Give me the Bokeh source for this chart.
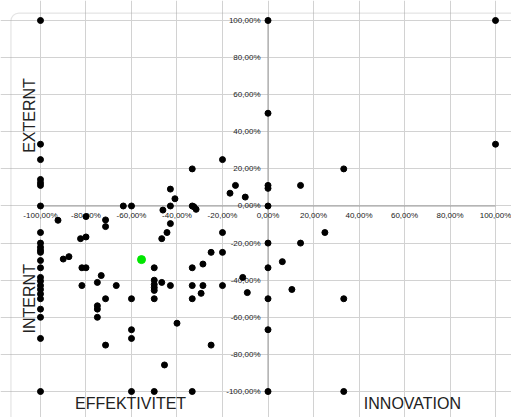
from bokeh.plotting import figure
from bokeh.models import Range1d, FixedTicker, Label, BoxAnnotation
from bokeh.core.properties import value
from bokeh.embed import file_html
from bokeh.resources import INLINE
import math

# ---- data (percent) ----
x_vals = [
    -100, 0, 100, 0, -100, 100, -100, -20, -33.3, 33.3,
    -100, -100, -100, 0, 0, 14.3, -14.3, -42.9, -16.7, -10,
    -40.9, -100, -63.6, -60, -42.9, -33.3, -32.6, -31.6, -46.2, 0,
    -92.3, -80, -71.4, -71.4, -42.9, -44.4, -46.7, -82.4, -80, -100,
    -20, 25, -100, -100, -100, -100, 0, 14.3, -25, -20,
    -90, -87.5, -100, 6.3, -28.6, -81.8, -80, -100, -50, -33.3,
    0, -73.3, -11.1, -100, -100, -50, -75, -46.7, -100, -81.8,
    -66.7, -50, -42.9, -33.3, -28.6, -20, -50, -50, -100, 10.5,
    -100, -9.1, -29.4, -100, -71.4, -60, -50, -33.3, 0, 33.3,
    -75, -75, -100, -75, -100, -40, -60, 0, -100, -60,
    -71.4, -25, -45.5, -100, -60, -50, -33.3, 0, 33.3,
]
y_vals = [
    100, 100, 100, 50, 33.3, 33.3, 25, 25, 20, 20,
    14.3, 12.5, 11.1, 11.1, 9.5, 11.1, 11.1, 9.1, 6.9, 4.8,
    3.9, 0, 0, 0, 0, 0, -0.4, -1.8, -2.2, 0,
    -7.7, -5.7, -7.5, -11.1, -9.5, -14.3, -17.6, -17.6, -16.7, -14.3,
    -14.3, -14.3, -20, -22.2, -23.8, -25, -20, -20, -25, -25,
    -28.6, -27.3, -29.4, -30, -31.3, -33.3, -33.3, -33.3, -33.3, -33.3,
    -33.3, -37.5, -38.5, -38.5, -40.5, -40, -41.2, -41.2, -42.9, -42.9,
    -42.9, -42.3, -42.9, -42.9, -42.9, -42.9, -44, -45.5, -45, -45,
    -47.4, -46.7, -47.1, -50, -50, -50, -50, -50, -50, -50,
    -53.8, -55.6, -55.6, -60, -60, -63.2, -66.7, -66.7, -71.4, -71.4,
    -75, -75, -85.7, -100, -100, -100, -100, -100, -100,
]
highlight_x = [-55.6]
highlight_y = [-28.9]

ticks = [-100, -80, -60, -40, -20, 0, 20, 40, 60, 80, 100]
tick_labels = [("%.2f" % t).replace(".", ",") + "%" for t in ticks]
axis_titles = ["EXTERNT", "INTERNT", "EFFEKTIVITET", "INNOVATION"]

AXIS_MIN, AXIS_MAX = -100, 100

p = figure(width=511, height=417, output_backend="svg", toolbar_location=None,
           x_range=Range1d(-117.58, 107.03), y_range=Range1d(-114.02, 110.78),
           x_axis_location=None, y_axis_location=None, title=None,
           min_border=0, min_border_left=0, min_border_right=0,
           min_border_top=0, min_border_bottom=0)
p.outline_line_color = None
p.background_fill_color = "white"
p.border_fill_color = "white"

for g in (p.xgrid, p.ygrid):
    g.ticker = FixedTicker(ticks=ticks)
    g.bounds = (AXIS_MIN, AXIS_MAX)
    g.grid_line_color = "#d2d2d2"
    g.grid_line_width = 1

# frame border with rounded corner
p.add_layout(BoxAnnotation(left=-113.0, top=104.0, right=140, bottom=-140,
                           fill_color=None, fill_alpha=0, line_color="#a6a6a6",
                           line_width=1.2, border_radius=8))

# central axes
p.segment(x0=[AXIS_MIN, 0], y0=[0, AXIS_MIN], x1=[AXIS_MAX, 0], y1=[0, AXIS_MAX],
          line_color="#9a9a9a", line_width=1)

# tick labels
font = value("Liberation Sans")
p.text(x=[0] * len(ticks), y=ticks, text=tick_labels, x_offset=-7.5,
       text_align="right", text_baseline="middle", text_font=font,
       text_font_size="8px", text_color="#222222")
p.text(x=ticks, y=[0] * len(ticks), text=tick_labels, y_offset=10,
       text_align="center", text_baseline="middle", text_font=font,
       text_font_size="8px", text_color="#222222")

# points
p.scatter(x=x_vals, y=y_vals, size=6, fill_color="black", line_color="black", line_width=1)
p.scatter(x=highlight_x, y=highlight_y, size=8, fill_color="#00e600", line_color="#00e600", line_width=1)

# axis titles
title_style = dict(text_font="Liberation Sans", text_font_size="16px",
                   text_color="#222222", text_align="center", text_baseline="middle")
p.add_layout(Label(x=-104.9, y=48.8, text=axis_titles[0], angle=math.pi / 2, **title_style))
p.add_layout(Label(x=-104.9, y=-50.0, text=axis_titles[1], angle=math.pi / 2, **title_style))
p.add_layout(Label(x=-60.4, y=-106.5, text=axis_titles[2], **title_style))
p.add_layout(Label(x=63.5, y=-106.5, text=axis_titles[3], **title_style))

open("out.html", "w").write(file_html(p, INLINE))
